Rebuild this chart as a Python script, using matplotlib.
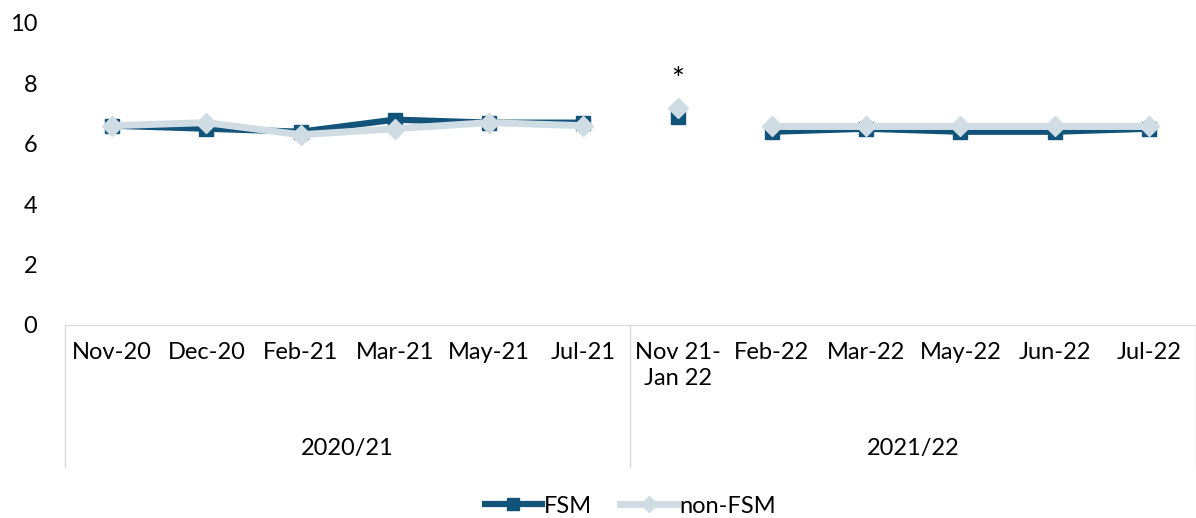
import numpy as np
import matplotlib.pyplot as plt
from matplotlib.transforms import blended_transform_factory

plt.rcParams['font.family'] = ['Lato', 'DejaVu Sans']

months = ["Nov-20", "Dec-20", "Feb-21", "Mar-21", "May-21", "Jul-21",
          "Nov 21-\nJan 22", "Feb-22", "Mar-22", "May-22", "Jun-22", "Jul-22"]
years = ["2020/21", "2021/22"]
fsm = [6.6, 6.5, 6.4, 6.8, 6.7, 6.7, 6.9, 6.4, 6.5, 6.4, 6.4, 6.5]
non_fsm = [6.6, 6.7, 6.3, 6.5, 6.7, 6.6, 7.2, 6.6, 6.6, 6.6, 6.6, 6.6]
# line segments (index ranges) that are joined
segments = [(0, 6), (6, 7), (7, 12)]

dark = "#12537A"
light = "#D0DCE4"
fs = 17

fig = plt.figure(figsize=(11.96, 5.18), dpi=100)
ax = fig.add_axes([0.0543, 0.3726, 0.9457, 0.583])
x = np.arange(len(months))

for k, (a, b) in enumerate(segments):
    ax.plot(x[a:b], fsm[a:b], color=dark, lw=4.5, marker="s", ms=10,
            label="FSM" if k == 0 else None, zorder=3)
for k, (a, b) in enumerate(segments):
    ax.plot(x[a:b], non_fsm[a:b], color=light, lw=5, marker="D", ms=10,
            label="non-FSM" if k == 0 else None, zorder=4)

ax.annotate("*", (6, non_fsm[6]), xytext=(0, 20), textcoords="offset points",
            ha="center", va="center", fontsize=22)

ax.set_xlim(-0.5, len(months) - 0.5)
ax.set_ylim(0, 10)
ax.set_yticks(range(0, 11, 2))
ax.tick_params(axis="y", length=0, labelsize=fs, pad=20)
ax.set_xticks([])
for s in ["top", "right", "left"]:
    ax.spines[s].set_visible(False)
ax.spines["bottom"].set_color("#D9D9D9")

# category axis
tr = blended_transform_factory(ax.transData, ax.transAxes)
for i, m in enumerate(months):
    ax.text(i, -0.055, m, transform=tr, ha="center", va="top", fontsize=fs,
            linespacing=1.3)
for xv in [-0.5, 5.5, 11.5]:
    ax.plot([xv, xv], [0, -0.47], transform=tr, color="#D9D9D9", lw=1,
            clip_on=False)
ax.text(2.5, -0.41, years[0], transform=tr, ha="center", va="center", fontsize=fs)
ax.text(8.5, -0.41, years[1], transform=tr, ha="center", va="center", fontsize=fs)

ax.legend(loc="center", bbox_to_anchor=(0.5, -0.6), ncol=2, frameon=False,
          fontsize=fs, handlelength=2.4, columnspacing=1.2, handletextpad=0.1,
          markerscale=0.8)

fig.savefig("out.png", dpi=100)
